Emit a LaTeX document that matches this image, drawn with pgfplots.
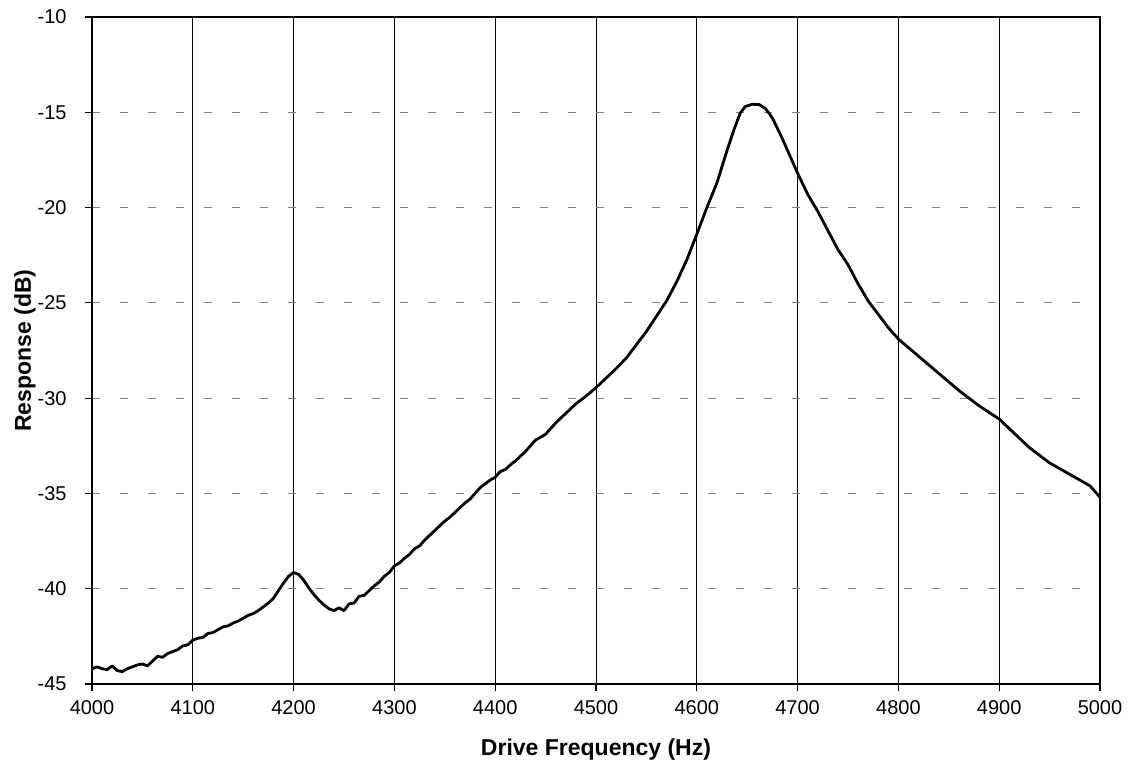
\documentclass[border=0pt]{standalone}
\usepackage{fontspec}
\setmainfont{Liberation Sans}
\usepackage{pgfplots}
\pgfplotsset{compat=1.18}
\begin{document}
\begin{tikzpicture}
\path[use as bounding box] (-46pt,-42.5pt) rectangle (520pt,342pt);
\begin{axis}[
  at={(0pt,0pt)}, anchor=south west,
  scale only axis,
  width=504pt, height=333.5pt,
  xmin=4000, xmax=5000, ymin=-45, ymax=-10,
  xtick={4000,4100,...,5000},
  ytick={-45,-40,...,-10},
  tick pos=left,
  /pgf/number format/assume math mode=true,
  /pgf/number format/set thousands separator={},
  tick align=outside,
  major tick length=3.5pt,
  tick style={black, line width=0.6pt},
  axis line style={black, line width=0.8pt},
  xmajorgrids, ymajorgrids,
  x grid style={black, line width=0.5pt},
  y grid style={gray, line width=0.5pt, dash pattern=on 4pt off 10pt},
  ticklabel style={font=\fontsize{10}{12}\selectfont},
  yticklabel style={anchor=east, inner sep=0pt, xshift=-9pt},
  xticklabel style={anchor=north, inner sep=0pt, yshift=-4.5pt},
  xlabel={Drive Frequency (Hz)},
  ylabel={Response (dB)},
  every axis x label/.style={at={(axis description cs:0.5,-0.099)}, anchor=center, font=\bfseries\fontsize{11.5}{13}\selectfont},
  every axis y label/.style={at={(axis description cs:-0.0665,0.5)}, anchor=center, rotate=90, font=\bfseries\fontsize{11.5}{13}\selectfont},
]
\addplot[black, line width=1.4pt, line join=round] coordinates {
(4000,-44.2) (4005,-44.1) (4010,-44.2) (4015,-44.25) (4020,-44.05) (4025,-44.3)
(4030,-44.35) (4035,-44.2) (4040,-44.1) (4045,-44.0) (4050,-43.95) (4055,-44.05)
(4060,-43.8) (4065,-43.55) (4070,-43.6) (4075,-43.4) (4080,-43.3) (4085,-43.2)
(4090,-43.0) (4095,-42.95) (4100,-42.7) (4105,-42.6) (4110,-42.55) (4115,-42.35)
(4120,-42.3) (4125,-42.15) (4130,-42.0) (4135,-41.95) (4140,-41.8) (4145,-41.7)
(4150,-41.55) (4155,-41.4) (4160,-41.3) (4165,-41.15) (4170,-40.95) (4175,-40.75)
(4180,-40.5) (4185,-40.1) (4190,-39.7) (4195,-39.35) (4200,-39.15) (4205,-39.25)
(4210,-39.55) (4215,-39.95) (4220,-40.3) (4225,-40.6) (4230,-40.85) (4235,-41.05)
(4240,-41.15) (4245,-41.0) (4250,-41.15) (4255,-40.8) (4260,-40.75) (4265,-40.4)
(4270,-40.35) (4275,-40.1) (4280,-39.85) (4285,-39.65) (4290,-39.35) (4295,-39.15)
(4300,-38.8) (4305,-38.65) (4310,-38.4) (4315,-38.2) (4320,-37.9) (4325,-37.75)
(4330,-37.45) (4335,-37.2) (4340,-36.95) (4345,-36.7) (4350,-36.45) (4355,-36.25)
(4360,-36.0) (4365,-35.75) (4370,-35.5) (4375,-35.3) (4380,-35.0) (4385,-34.7)
(4390,-34.5) (4395,-34.3) (4400,-34.15) (4405,-33.85) (4410,-33.75) (4415,-33.5)
(4420,-33.3) (4425,-33.05) (4430,-32.8) (4435,-32.5) (4440,-32.2) (4445,-32.05)
(4450,-31.9) (4460,-31.3) (4470,-30.8) (4480,-30.3) (4490,-29.9) (4500,-29.45)
(4510,-28.95) (4520,-28.45) (4530,-27.9) (4540,-27.2) (4550,-26.5) (4560,-25.7)
(4570,-24.9) (4580,-23.9) (4590,-22.75) (4600,-21.4) (4610,-20.0) (4620,-18.7)
(4630,-17.0) (4637,-15.9) (4643,-15.05) (4648,-14.7) (4655,-14.58) (4662,-14.6)
(4668,-14.8) (4675,-15.3) (4685,-16.4) (4695,-17.6) (4700,-18.2) (4710,-19.3)
(4720,-20.2) (4730,-21.2) (4740,-22.2) (4750,-23.0) (4760,-24.0) (4770,-24.9)
(4780,-25.6) (4790,-26.3) (4800,-26.9) (4810,-27.35) (4820,-27.8) (4830,-28.25)
(4840,-28.7) (4850,-29.15) (4860,-29.6) (4870,-30.0) (4880,-30.4) (4890,-30.75)
(4900,-31.1) (4910,-31.6) (4920,-32.1) (4930,-32.6) (4940,-33.0) (4950,-33.4)
(4960,-33.7) (4970,-34.0) (4980,-34.3) (4990,-34.6) (5000,-35.2)
};
\end{axis}
\end{tikzpicture}
\end{document}
